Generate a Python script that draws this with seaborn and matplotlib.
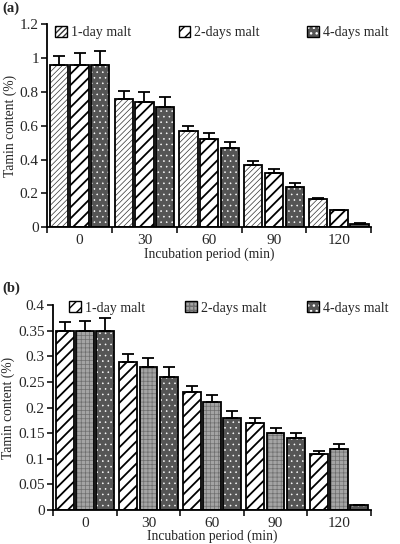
import numpy as np
import pandas as pd
import matplotlib
matplotlib.use("Agg")
import matplotlib.pyplot as plt
from matplotlib.patches import Patch, Rectangle
from matplotlib.ticker import FuncFormatter, FixedLocator
import seaborn as sns

# data
times = ["0", "30", "60", "90", "120"]
malts = ["1-day malt", "2-days malt", "4-days malt"]

a_1day = [0.96, 0.76, 0.57, 0.37, 0.17]
a_2day = [0.96, 0.74, 0.52, 0.32, 0.10]
a_4day = [0.96, 0.71, 0.47, 0.24, 0.02]
a_1day_err = [0.05, 0.045, 0.027, 0.02, 0.006]
a_2day_err = [0.07, 0.056, 0.036, 0.024, 0.005]
a_4day_err = [0.078, 0.06, 0.036, 0.022, 0.005]

b_1day = [0.35, 0.29, 0.23, 0.17, 0.11]
b_2day = [0.35, 0.28, 0.21, 0.15, 0.12]
b_4day = [0.35, 0.26, 0.18, 0.14, 0.01]
b_1day_err = [0.018, 0.014, 0.012, 0.009, 0.005]
b_2day_err = [0.02, 0.017, 0.015, 0.011, 0.008]
b_4day_err = [0.025, 0.019, 0.013, 0.011, 0.0]

sns.set_theme(style="ticks")
plt.rcParams["font.family"] = ["Liberation Serif", "DejaVu Serif"]
plt.rcParams["axes.linewidth"] = 1.3

# (facecolor, hatch, hatch colour, hatch linewidth)
style_fine = ("white", "//////", "#333333", 0.5)
style_bold = ("white", "///", "black", 1.3)
style_grid = ("#a4a4a4", "++++", "#6e6e6e", 0.5)
style_dots = ("#555555", "...", "white", 0.4)


def make_frame(v1, v2, v3):
    rows = []
    for malt, vals in zip(malts, [v1, v2, v3]):
        for t, v in zip(times, vals):
            rows.append({"time": t, "malt": malt, "value": v})
    return pd.DataFrame(rows)


def styled_patch(ax, p, style):
    fc, hatch, hc, hlw = style
    p.set_facecolor(fc)
    p.set_hatch(hatch)
    p.set_edgecolor(hc)
    p.set_linewidth(0)
    if hasattr(p, "set_hatch_linewidth"):
        p.set_hatch_linewidth(hlw)
    ax.add_patch(Rectangle(p.get_xy(), p.get_width(), p.get_height(),
                           fill=False, ec="black", lw=1.3, zorder=p.get_zorder() + 0.1))


def legend_handle(style):
    fc, hatch, hc, hlw = style
    h = Patch(facecolor=fc, hatch=hatch, edgecolor=hc, linewidth=0)
    if hasattr(h, "set_hatch_linewidth"):
        h.set_hatch_linewidth(hlw)
    return (h, Patch(fill=False, edgecolor="black", linewidth=1.0))


def draw_panel(ax, df, errs, styles, ymax, ystep, leg_x, leg_y, colsp):
    sns.barplot(data=df, x="time", y="value", hue="malt", errorbar=None,
                width=0.96, gap=0.12, ax=ax, legend=False)
    for cont, err, style in zip(ax.containers, errs, styles):
        xs, tops = [], []
        for p in cont.patches:
            styled_patch(ax, p, style)
            xs.append(p.get_x() + p.get_width() / 2)
            tops.append(p.get_height())
        err = np.array(err)
        ax.errorbar(xs, tops, yerr=[np.zeros_like(err), err], fmt="none",
                    ecolor="black", elinewidth=1.3, capsize=4.5, capthick=1.3, zorder=5)
    ax.set_xlim(-0.5, 4.5)
    ax.set_ylim(0, ymax)
    ax.yaxis.set_major_locator(FixedLocator(np.arange(0, ymax + 1e-9, ystep)))
    ax.yaxis.set_major_formatter(FuncFormatter(lambda v, _: f"{v:g}"))
    ax.xaxis.set_minor_locator(FixedLocator(np.arange(-0.5, 4.6, 1.0)))
    ax.tick_params(axis="x", which="major", length=0, labelsize=11, pad=5)
    ax.tick_params(axis="x", which="minor", length=4, width=1.3, direction="out")
    ax.tick_params(axis="y", length=4, width=1.3, labelsize=11, pad=2)
    ax.set_xlabel("Incubation period (min)", fontsize=9.8, labelpad=0)
    ax.set_ylabel("Tamin content (%)", fontsize=9.8, labelpad=2)
    sns.despine(ax=ax)
    for s in ["left", "bottom"]:
        ax.spines[s].set_color("black")
    ax.legend([legend_handle(s) for s in styles], malts, loc="upper left",
              bbox_to_anchor=(leg_x, leg_y), bbox_transform=ax.figure.transFigure,
              ncol=3, frameon=False, fontsize=10, handlelength=0.85, handleheight=0.85,
              handletextpad=0.3, columnspacing=colsp, borderaxespad=0, borderpad=0)


fig = plt.figure(figsize=(4.0, 5.44), dpi=100)
ax_a = fig.add_axes([0.118, 0.582, 0.81, 0.374])
ax_b = fig.add_axes([0.133, 0.0625, 0.794, 0.3765])

draw_panel(ax_a, make_frame(a_1day, a_2day, a_4day),
           [a_1day_err, a_2day_err, a_4day_err],
           [style_fine, style_bold, style_dots], 1.2, 0.2, 0.138, 0.952, 3.4)
draw_panel(ax_b, make_frame(b_1day, b_2day, b_4day),
           [b_1day_err, b_2day_err, b_4day_err],
           [style_bold, style_grid, style_dots], 0.4, 0.05, 0.172, 0.446, 2.9)

fig.text(0.005, 0.998, "(a)", fontsize=10.5, fontweight="bold", va="top", ha="left")
fig.text(0.005, 0.482, "(b)", fontsize=10.5, fontweight="bold", va="top", ha="left")

fig.savefig("out.png", dpi=100)
